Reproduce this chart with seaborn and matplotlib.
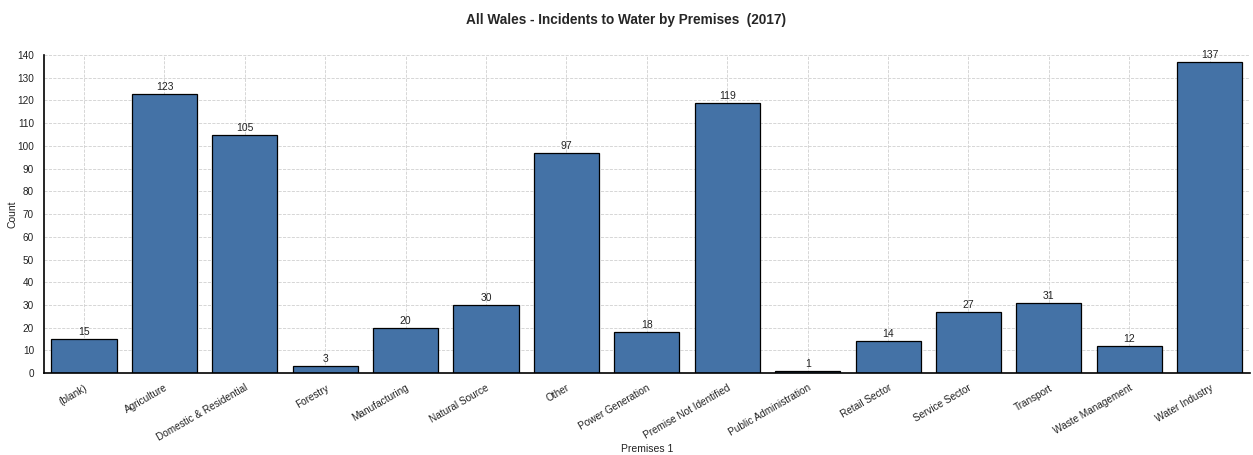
import numpy as np
import pandas as pd
import seaborn as sns
import matplotlib.pyplot as plt
from matplotlib.ticker import MultipleLocator, AutoMinorLocator

# Dados
premises = ['(blank)', 'Agriculture', 'Domestic & Residential', 'Forestry',
            'Manufacturing', 'Natural Source', 'Other', 'Power Generation',
            'Premise Not Identified', 'Public Administration', 'Retail Sector',
            'Service Sector', 'Transport', 'Waste Management', 'Water Industry']
counts = [15, 123, 105, 3, 20, 30, 97, 18, 119, 1, 14, 27, 31, 12, 137]

df = pd.DataFrame({'Premises 1': premises, 'Count': counts})

sns.set_style('white')
plt.rcParams['font.family'] = ['Liberation Sans', 'DejaVu Sans']

fig = plt.figure(figsize=(12.53, 4.55), dpi=100)
ax = fig.add_axes([0.035, 0.180, 0.9625, 0.699])

sns.barplot(data=df, x='Premises 1', y='Count', color='#4472a6',
            edgecolor='black', linewidth=0.9, width=0.81, saturation=1, ax=ax)

for i, v in enumerate(counts):
    ax.text(i, v + 0.8, str(v), ha='center', va='bottom', fontsize=7.5, color='#222222')

ax.set_xlim(-0.5, len(premises) - 0.5)
ax.set_ylim(0, 140)
ax.yaxis.set_major_locator(MultipleLocator(10))
ax.yaxis.set_minor_locator(AutoMinorLocator(4))
ax.set_xticks(np.arange(-0.5, len(premises), 1.0), minor=True)

ax.grid(True, which='major', color='#d0d0d0', linestyle='--', linewidth=0.6)
ax.set_axisbelow(True)

for s in ['top', 'right']:
    ax.spines[s].set_visible(False)
for s in ['left', 'bottom']:
    ax.spines[s].set_color('black')
    ax.spines[s].set_linewidth(1.2)

ax.tick_params(axis='both', which='major', direction='out', length=5, width=1.2,
               labelsize=7.2, colors='black', labelcolor='#222222', pad=2)
ax.tick_params(axis='both', which='minor', direction='out', length=3, width=1.0, colors='black')
plt.setp(ax.get_xticklabels(), rotation=30, ha='right', rotation_mode='anchor')

ax.set_xlabel('Premises 1', fontsize=7.5, color='#222222', va='center')
ax.xaxis.set_label_coords(0.5, -0.239)
ax.set_ylabel('Count', fontsize=7.5, color='#222222', va='center')
ax.yaxis.set_label_coords(-0.026, 0.5)
fig.suptitle('All Wales - Incidents to Water by Premises  (2017)', fontsize=9.8,
             fontweight='bold', y=0.972)

fig.savefig('out.png', dpi=100)
